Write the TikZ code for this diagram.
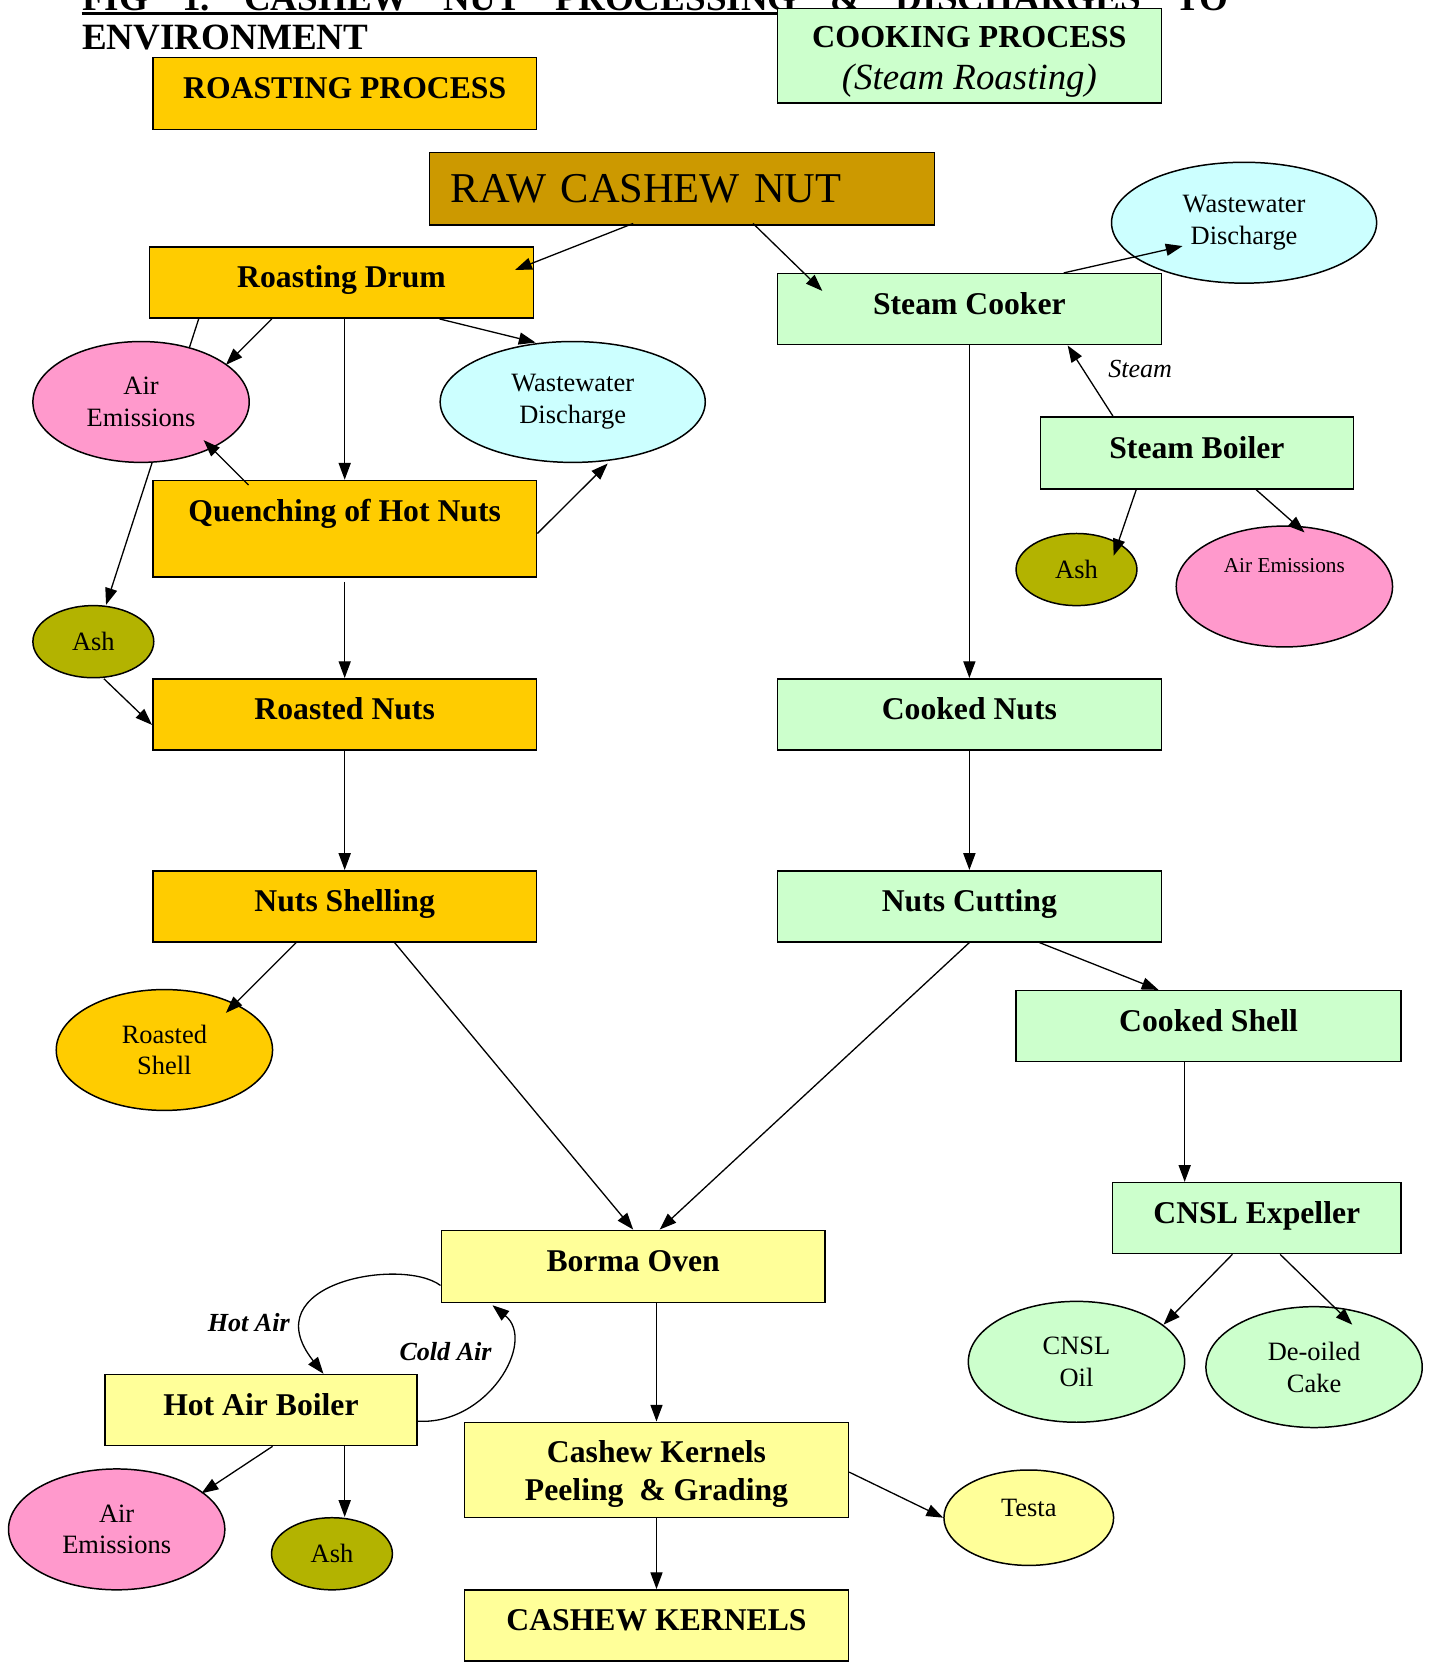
\documentclass[tikz,border=0pt]{standalone}
\usepackage{fontspec}
\setmainfont{Liberation Serif}
\usetikzlibrary{arrows.meta, shapes.geometric, calc, backgrounds}

\definecolor{roastgold}{HTML}{FFCC00}
\definecolor{rawgold}{HTML}{CC9900}
\definecolor{cookgreen}{HTML}{CCFFCC}
\definecolor{watercyan}{HTML}{CCFFFF}
\definecolor{airpink}{HTML}{FF99CC}
\definecolor{asholive}{HTML}{B3B300}
\definecolor{ovenyellow}{HTML}{FFFF99}

\begin{document}
\begin{tikzpicture}[x=0.02cm, y=-0.02cm,
    stage/.style = {draw, rectangle, line width=0.8pt, inner sep=0pt, align=center,
                    minimum width=7.24cm, minimum height=1.34cm, text height=12pt, text depth=6.4pt,
                    font=\bfseries\fontsize{17}{20}\selectfont},
    waste/.style = {draw, ellipse, line width=0.8pt, inner sep=0pt, align=center,
                    minimum width=4.08cm, minimum height=2.28cm,
                    font=\fontsize{14.2}{17}\selectfont},
    ash/.style = {waste, fill=asholive, minimum width=2.28cm, minimum height=1.36cm},
    flow/.style = {-{Triangle[length=9pt, width=6.5pt]}, line width=0.7pt},
    lbl/.style = {font=\itshape\fontsize{14}{17}\selectfont, inner sep=2pt}]
        \useasboundingbox (0,0) rectangle (1355,1568);
        % heading
        \node[anchor=base west, inner sep=0pt, font=\bfseries\fontsize{19.9}{22}\selectfont] (title) at (77,9.5)
            {\hbox to 21.62cm{FIG\hfill 1.\hfill CASHEW\hfill NUT\hfill PROCESSING\hfill \&\hfill DISCHARGES\hfill TO}};
        \draw[line width=1.7pt] ([yshift=-2pt]title.base west) -- ([xshift=20.06cm, yshift=-2pt]title.base west);
        \node[anchor=base west, inner sep=0pt, font=\bfseries\fontsize{19.9}{22}\selectfont] (title2) at (77,46.5) {ENVIRONMENT};
        \node[stage, fill=roastgold, minimum height=1.36cm] (roastproc) at (325,88) {ROASTING PROCESS};
        \node[stage, text height=, text depth=, fill=cookgreen, minimum height=1.78cm, font=\bfseries\fontsize{17.2}{22.5}\selectfont] (cookproc) at (914,52.5)
            {\rule{0pt}{18pt}COOKING PROCESS\\{\mdseries\itshape\fontsize{19.8}{22.5}\selectfont (Steam Roasting)}};
        \node[draw, fill=rawgold, line width=0.8pt, minimum height=1.36cm, text width=8.72cm, inner xsep=0.4cm,
              align=left, font=\fontsize{22.8}{26}\selectfont] (raw) at (643,178) {RAW CASHEW NUT};

        % roasting side
        \node[stage, fill=roastgold] (drum) at (322,266.5) {Roasting Drum};
        \node[waste, fill=airpink] (airA) at (133,379) {Air\\Emissions};
        \node[waste, fill=watercyan, minimum width=5cm] (wwA) at (540,379) {Wastewater\\Discharge};
        \node[stage, text height=, text depth=, fill=roastgold, minimum height=1.82cm] (quench) at (325,498.5) {Quenching of Hot Nuts\\[-6pt] \strut};
        \node[ash] (ashA) at (88,605) {Ash};
        \node[stage, fill=roastgold] (roasted) at (325,673.5) {Roasted Nuts};
        \node[stage, fill=roastgold] (shelling) at (325,854.5) {Nuts Shelling};
        \node[waste, fill=roastgold] (rshell) at (155,990) {Roasted\\Shell};

        % cooking side
        \node[stage, fill=cookgreen] (cooker) at (914,291.5) {Steam Cooker};
        \node[waste, fill=watercyan, minimum width=5cm] (wwB) at (1173,210) {Wastewater\\Discharge};
        \node[stage, fill=cookgreen, minimum width=5.9cm, minimum height=1.36cm] (sboiler) at (1128.5,427) {Steam Boiler};
        \node[ash] (ashB) at (1015,537) {Ash};
        \node[waste, fill=airpink, font=\fontsize{11.4}{14}\selectfont] (airB) at (1211,553) {Air Emissions\\[4pt] \strut};
        \node[stage, fill=cookgreen] (cooked) at (914,673.5) {Cooked Nuts};
        \node[stage, fill=cookgreen] (cutting) at (914,854.5) {Nuts Cutting};
        \node[stage, fill=cookgreen, minimum width=7.26cm] (cshell) at (1139.5,967.5) {Cooked Shell};
        \node[stage, fill=cookgreen, minimum width=5.44cm] (expeller) at (1185,1148.5) {CNSL Expeller};
        \node[waste, fill=cookgreen] (oil) at (1015,1284) {CNSL\\Oil};
        \node[waste, fill=cookgreen] (cake) at (1239,1289) {De-oiled\\Cake};

        % common end
        \node[stage, fill=ovenyellow, minimum height=1.36cm] (borma) at (597,1194) {Borma Oven};
        \node[stage, fill=ovenyellow, minimum width=5.88cm] (hotboiler) at (246,1329.5) {Hot Air Boiler};
        \node[waste, fill=airpink] (airC) at (110,1442) {Air\\Emissions};
        \node[ash] (ashC) at (313,1465) {Ash};
        \node[stage, text height=, text depth=, fill=ovenyellow, minimum height=1.8cm] (peel) at (619,1386)
            {\rule{0pt}{16pt}Cashew Kernels\\Peeling \ \& Grading};
        \node[waste, fill=ovenyellow, minimum width=3.2cm, minimum height=1.8cm, text height=10pt, text depth=10.8pt] (testa) at (970,1431) {Testa};
        \node[stage, fill=ovenyellow] (kernels) at (619,1532.5) {CASHEW KERNELS};

        \begin{scope}[on background layer]
            \draw[flow] ($(drum.south west)+(47,0)$) -- ($(ashA.north)+(12,0)$);
        \end{scope}
        \draw[flow] ($(raw.south)+(-46,-2)$) -- ($(drum.east)+(-18,-12)$);
        \draw[flow] ($(raw.south)+(67,-2)$) -- ($(cooker.north west)+(43,17)$);
        \draw[flow] ($(drum.south west)+(116,0)$) -- ($(airA)+(80,-35)$);
        \draw[flow] ($(drum.south)+(3,0)$) -- (quench.north);
        \draw[flow] ($(drum.south west)+(274,0)$) -- ($(wwA)+(-35,-56)$);
        \draw[flow] ($(quench.north west)+(91,5)$) -- ($(airA)+(59,36)$);
        \draw[flow] ($(quench.east)+(0,4.5)$) -- ($(wwA)+(33,58)$);
        \draw[flow] ($(quench.south)+(0,4)$) -- (roasted.north);
        \draw[flow] ($(ashA)+(10,35)$) -- ($(roasted.west)+(0,10)$);
        \draw[flow] (roasted.south) -- (shelling.north);
        \draw[flow] ($(shelling.south west)+(136,0)$) -- ($(rshell)+(58,-35)$);
        \draw[flow] ($(shelling.south)+(47,0)$) -- (borma.north);

        \draw[flow] ($(cooker.north)+(89,0)$) -- ($(wwB)+(-58,22)$);
        \draw[flow] (cooker.south) -- (cooked.north);
        \draw[flow] ($(sboiler.north west)+(69,0)$) -- ($(cooker.south east)+(-89,0)$)
            node[lbl, midway, xshift=0.94cm, yshift=0.23cm] {Steam};
        \draw[flow] ($(sboiler.south west)+(91,0)$) -- ($(ashB)+(35,-13)$);
        \draw[flow] ($(sboiler.south west)+(204,0)$) -- ($(airB)+(19,-51)$);
        \draw[flow] (cooked.south) -- (cutting.north);
        \draw[flow] (cutting.south) -- ($(borma.north)+(25,0)$);
        \draw[flow] ($(cutting.south)+(66,0)$) -- ($(cshell.north west)+(135,0)$);
        \draw[flow] ($(cshell.south)+(-22.5,0)$) -- ($(expeller.north)+(-68,0)$);
        \draw[flow] ($(expeller.south)+(-23,0)$) -- ($(oil)+(82,-35)$);
        \draw[flow] ($(expeller.south)+(22,0)$) -- ($(cake)+(36,-40)$);

        \draw[flow] ($(borma.south)+(22,0)$) -- (peel.north);
        \draw[flow] ($(borma.west)+(0,18)$) .. controls +(-36,-27) and +(-68,-86) .. ($(hotboiler.north)+(59,0)$)
            node[lbl, font=\bfseries\itshape\fontsize{14}{17}\selectfont, pos=0.78, anchor=east, xshift=-0.2cm] {Hot Air};
        \draw[flow] ($(hotboiler.east)+(0,10.5)$) .. controls +(66,4) and +(42,34) .. ($(borma.south west)+(49,2)$)
            node[lbl, font=\bfseries\itshape\fontsize{14}{17}\selectfont, pos=0.6, anchor=east, xshift=-0.18cm, yshift=0.21cm] {Cold Air};
        \draw[flow] ($(hotboiler.south)+(11,0)$) -- ($(airC)+(80,-34)$);
        \draw[flow] ($(hotboiler.south)+(79,0)$) -- ($(ashC.north)+(12,0)$);
        \draw[flow] ($(peel.east)+(0,2)$) -- (testa.west);
        \draw[flow] (peel.south) -- (kernels.north);
    \end{tikzpicture}
\end{document}
